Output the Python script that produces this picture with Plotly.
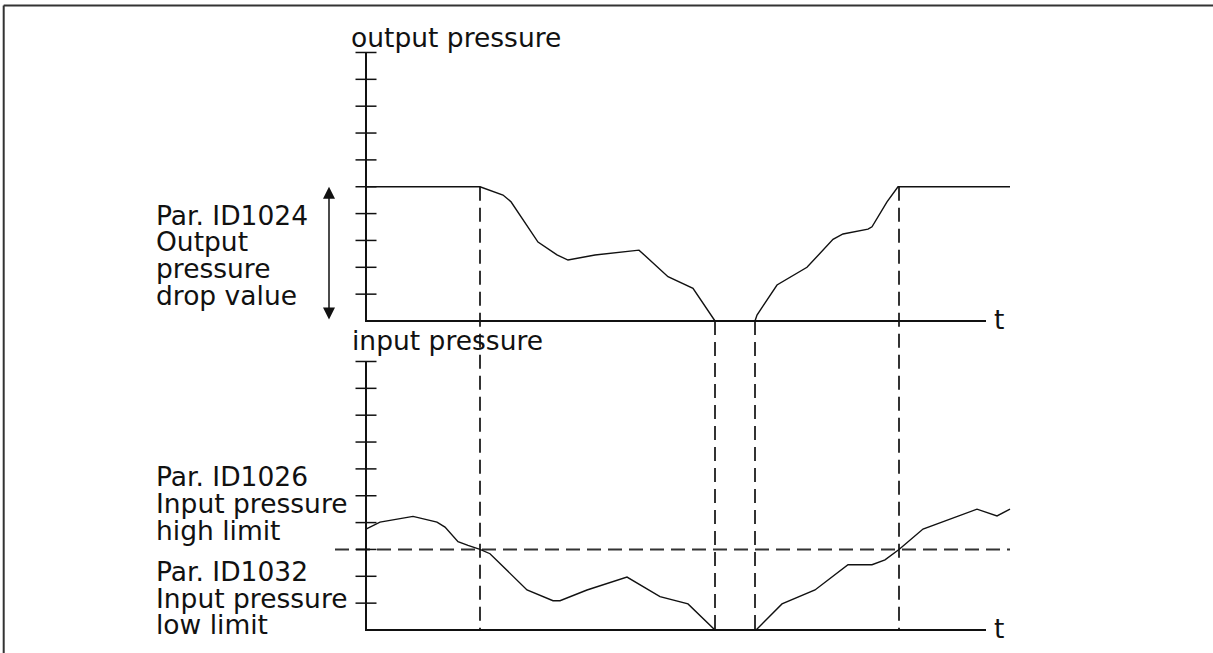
import plotly.graph_objects as go

# ---- data -------------------------------------------------------------
# time base in arbitrary units, pressures in tick units (0..10)
t_out = [0, 11.4, 13.7, 14.5, 17.2, 19.1, 20.2, 22.9, 27.3, 30.2, 32.7, 34.9,
         38.9, 39.1, 41.1, 44.1, 46.7, 47.7, 50.2, 50.6, 52.1, 53.2, 64.4]
p_out = [5, 5, 4.69, 4.44, 2.94, 2.46, 2.27, 2.46, 2.64, 1.65, 1.22, 0,
         0, 0.22, 1.34, 2.0, 3.04, 3.24, 3.42, 3.51, 4.44, 5, 5]

t_in = [0, 1.4, 4.7, 7.1, 7.9, 9.2, 10.2, 11.4, 12.4, 16.1, 18.7, 19.4, 22.1,
        26.1, 29.4, 32.2, 34.9, 39.0, 41.6, 44.9, 48.2, 50.6, 51.9, 53.3,
        55.7, 61.1, 63.1, 64.4]
p_in = [3.76, 4.02, 4.23, 4.02, 3.83, 3.29, 3.15, 3.0, 2.84, 1.49, 1.09, 1.09,
        1.49, 1.97, 1.24, 0.97, 0, 0, 0.97, 1.49, 2.43, 2.43, 2.61, 3.0,
        3.76, 4.5, 4.25, 4.5]

tick_levels = [1, 2, 3, 4, 5, 6, 7, 8, 9, 10]
axis_top = 10
t_axis_end = 62.0

event_times = [11.4, 34.9, 38.9, 53.3]
event_levels_out = [5, 0, 0, 5]

limit_level = 3.0
limit_span = [-3.1, 64.4]

drop_arrow_t = -3.7
drop_levels = [0, 5]

# the input panel is stacked under the output panel by shifting its values
LOWER_OFFSET = -11.508

FONT = dict(family="DejaVu Sans", size=26.5, color="#111111")
AXIS_COLOR = "#111111"
DASH_COLOR = "#333333"
DASH = "14px,7px"

fig = go.Figure()

# dashed event markers and the limit line
vx, vy = [], []
for t, lvl in zip(event_times, event_levels_out):
    vx += [t, t, None]
    vy += [lvl, LOWER_OFFSET, None]
fig.add_trace(go.Scatter(x=vx, y=vy, mode="lines",
                         line=dict(color=DASH_COLOR, width=2, dash=DASH)))
fig.add_trace(go.Scatter(x=limit_span,
                         y=[limit_level + LOWER_OFFSET] * 2, mode="lines",
                         line=dict(color=DASH_COLOR, width=2, dash=DASH)))

# axes of both panels
for off in (0, LOWER_OFFSET):
    fig.add_trace(go.Scatter(x=[0, 0, t_axis_end],
                             y=[axis_top + off, off, off], mode="lines",
                             line=dict(color=AXIS_COLOR, width=2)))
    fig.add_trace(go.Scatter(x=[0] * len(tick_levels),
                             y=[v + off for v in tick_levels], mode="markers",
                             marker=dict(symbol="line-ew", size=15,
                                         line=dict(color=AXIS_COLOR, width=1.5))))

# pressure curves
fig.add_trace(go.Scatter(x=t_out, y=p_out, mode="lines",
                         line=dict(color="#111111", width=1.4)))
fig.add_trace(go.Scatter(x=t_in, y=[v + LOWER_OFFSET for v in p_in],
                         mode="lines", line=dict(color="#111111", width=1.4)))

# double-headed arrow showing the drop value
fig.add_annotation(x=drop_arrow_t, y=drop_levels[1], ax=drop_arrow_t,
                   ay=drop_levels[0], xref="x", yref="y", axref="x", ayref="y",
                   text="", showarrow=True, arrowhead=2, arrowside="end+start",
                   arrowsize=1.6, arrowwidth=1.5, arrowcolor="#111111")


def label(text, x, y, anchor="left"):
    fig.add_annotation(x=x, y=y, xref="x", yref="y", text=text,
                       showarrow=False, xanchor=anchor, yanchor="middle",
                       font=FONT)


LABEL_X = -21.25
label("output pressure", -1.7, 10.55)
label("input pressure", -1.6, 10.78 + LOWER_OFFSET)
label("t", 62.6, 0.07)
label("t", 62.6, 0.04 + LOWER_OFFSET)

upper_rows = ["Par. ID1024", "Output", "pressure", "drop value"]
for i, row in enumerate(upper_rows):
    label(row, LABEL_X, 3.94 - i * 0.995)

lower_rows = [("Par. ID1026", 5.70), ("Input pressure", 4.71),
              ("high limit", 3.70), ("Par. ID1032", 2.19),
              ("Input pressure", 1.19), ("low limit", 0.20)]
for row, lvl in lower_rows:
    label(row, LABEL_X, lvl + LOWER_OFFSET)

# page frame (top and left edges)
fig.add_shape(type="line", xref="paper", yref="paper", x0=0.003, x1=1,
              y0=1 - 5.5 / 653, y1=1 - 5.5 / 653,
              line=dict(color="#333333", width=2))
fig.add_shape(type="line", xref="paper", yref="paper", x0=3.7 / 1213,
              x1=3.7 / 1213, y0=0, y1=1 - 5.5 / 653,
              line=dict(color="#333333", width=2))

fig.update_layout(
    width=1213, height=653, margin=dict(l=0, r=0, t=0, b=0),
    paper_bgcolor="white", plot_bgcolor="white", showlegend=False,
    xaxis=dict(range=[-36.6, 84.7], visible=False, fixedrange=True),
    yaxis=dict(range=[-12.365, 11.955], visible=False, fixedrange=True),
)

fig.write_html("out.html", config=dict(displayModeBar=False))
